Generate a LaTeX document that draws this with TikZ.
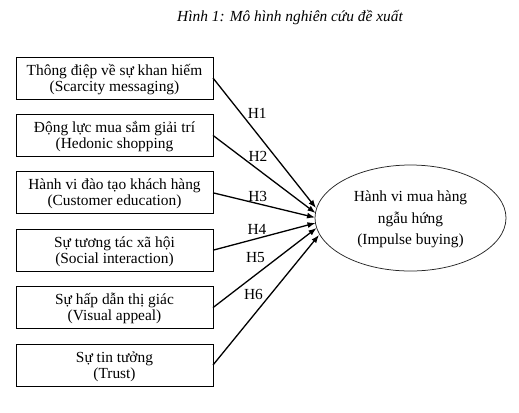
\documentclass[tikz,border=0pt]{standalone}
\usepackage{fontspec}
\setmainfont{Liberation Serif}
\usetikzlibrary{arrows.meta,shapes.geometric}
\begin{document}
\begin{tikzpicture}[x=1bp,y=-1bp,
  every node/.style={font=\fontsize{15.4bp}{16bp}\selectfont, inner sep=0pt, outer sep=0pt},
  factor/.style={draw, line width=0.9bp, minimum width=197bp, minimum height=42bp, anchor=north west},
  txt/.style={anchor=base},
  outcome/.style={ellipse, draw=black!85, line width=0.75bp, minimum width=191bp, minimum height=106bp},
  arr/.style={line width=1.3bp, -{Latex[length=8bp,width=6bp]}},
  hyp/.style={anchor=center}]
\useasboundingbox (0,0) rectangle (519,412);
\node[txt, font=\fontsize{15.4bp}{16bp}\selectfont\itshape] (title) at (290,21) {Hình 1: Mô hình nghiên cứu đề xuất};
% factor boxes
\node[factor] (b1) at (16,57) {};
\node[factor] (b2) at (16,114.4) {};
\node[factor] (b3) at (16,171.8) {};
\node[factor] (b4) at (16,229.2) {};
\node[factor] (b5) at (16,286.6) {};
\node[factor] (b6) at (16,344) {};
\node[txt] (b1a) at (114.5,75) {Thông điệp về sự khan hiếm};
\node[txt] (b1b) at (114.5,91) {(Scarcity messaging)};
\node[txt] (b2a) at (114.5,132.4) {Động lực mua sắm giải trí};
\node[txt] (b2b) at (114.5,148.4) {(Hedonic shopping};
\node[txt] (b3a) at (114.5,189.8) {Hành vi đào tạo khách hàng};
\node[txt] (b3b) at (114.5,205.8) {(Customer education)};
\node[txt] (b4a) at (114.5,247.2) {Sự tương tác xã hội};
\node[txt] (b4b) at (114.5,263.2) {(Social interaction)};
\node[txt] (b5a) at (114.5,304.6) {Sự hấp dẫn thị giác};
\node[txt] (b5b) at (114.5,320.6) {(Visual appeal)};
\node[txt] (b6a) at (114.5,362) {Sự tin tưởng};
\node[txt] (b6b) at (114.5,378) {(Trust)};
% outcome ellipse
\node[outcome] (imp) at (410.5,218) {};
\node[txt] (impa) at (410.5,201.5) {Hành vi mua hàng};
\node[txt] (impb) at (410.5,223) {ngẫu hứng};
\node[txt] (impc) at (410.5,244.5) {(Impulse buying)};
% arrow tips
\coordinate (t1) at (316,208);
\coordinate (t2) at (315.5,213);
\coordinate (t3) at (315,217.5);
\coordinate (t4) at (315.5,223);
\coordinate (t5) at (316.5,228);
\coordinate (t6) at (319,235);
\draw[arr] (b1.east) -- (t1);
\draw[arr] (b2.east) -- (t2);
\draw[arr] (b3.east) -- (t3);
\draw[arr] (b4.east) -- (t4);
\draw[arr] (b5.east) -- (t5);
\draw[arr] (b6.east) -- (t6);
% hypothesis labels
\node[hyp] (h1) at (257.2,113.8) {H1};
\node[hyp] (h2) at (258,156.2) {H2};
\node[hyp] (h3) at (257.7,196) {H3};
\node[hyp] (h4) at (257,229) {H4};
\node[hyp] (h5) at (255.5,258) {H5};
\node[hyp] (h6) at (253.5,294) {H6};
\end{tikzpicture}
\end{document}
